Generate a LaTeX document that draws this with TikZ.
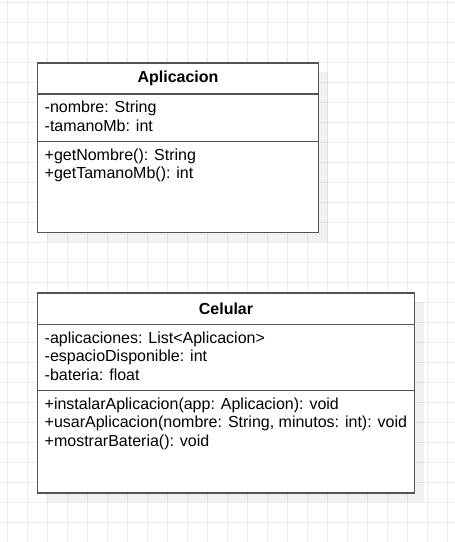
\documentclass[tikz,border=0pt]{standalone}
\usepackage{fontspec}
\setmainfont{Liberation Sans}
\usepackage{xcolor}
\usetikzlibrary{positioning,backgrounds}

\begin{document}
\begin{tikzpicture}[
    x=1pt,y=-1pt,
    every node/.style={font=\fontsize{16}{18}\selectfont},
    grd/.style={line width=1.4pt,black!7},
    shd/.style={fill=black,fill opacity=.055},
    cbox/.style={draw=black!67,line width=1.8pt,fill=white,outer sep=0pt,
                 inner sep=0pt,anchor=north west},
    cname/.style={cbox,font=\fontsize{16}{18}\selectfont\bfseries},
    mem/.style={anchor=base west,inner sep=0pt},
  ]
  \def\dy{18.4}

  % -- class Aplicacion --
  \node[cname,minimum width=281pt,minimum height=31pt] (apHead) at (37.5,63) {Aplicacion};
  \node[cbox,minimum width=281pt,minimum height=47.5pt,below=0pt of apHead] (apAttr) {};
  \node[cbox,minimum width=281pt,minimum height=91pt,below=0pt of apAttr] (apMeth) {};
  \foreach \t [count=\i] in {-nombre: String, -tamanoMb: int}
    \node[mem] (apA\i) at ([shift={({7},{18.8+(\i-1)*\dy})}]apAttr.north west) {\t};
  \foreach \t [count=\i] in {+getNombre(): String, +getTamanoMb(): int}
    \node[mem] (apM\i) at ([shift={({7},{18.8+(\i-1)*\dy})}]apMeth.north west) {\t};

  % -- class Celular --
  \node[cname,minimum width=377pt,minimum height=31.5pt] (ceHead) at (37.5,293) {Celular};
  \node[cbox,minimum width=377pt,minimum height=66pt,below=0pt of ceHead] (ceAttr) {};
  \node[cbox,minimum width=377pt,minimum height=102.8pt,below=0pt of ceAttr] (ceMeth) {};
  \foreach \t [count=\i] in {-aplicaciones: List<Aplicacion>, -espacioDisponible: int,
                             -bateria: float}
    \node[mem] (ceA\i) at ([shift={({7},{18.8+(\i-1)*\dy})}]ceAttr.north west) {\t};
  \foreach \t [count=\i] in {+instalarAplicacion(app: Aplicacion): void,
                             {+usarAplicacion(nombre: String, minutos: int): void},
                             +mostrarBateria(): void}
    \node[mem] (ceM\i) at ([shift={({7},{18.8+(\i-1)*\dy})}]ceMeth.north west) {\t};

  % -- sheet, grid and shadows behind the classes --
  \begin{pgfonlayer}{background}
    \useasboundingbox (0,0) rectangle (455,542);
    \fill[white] (0,0) rectangle (455,542);
    \foreach \x in {0,...,22} \draw[grd] ({7.7+20*\x},0) -- ({7.7+20*\x},542);
    \foreach \y in {0,...,26} \draw[grd] (0,{2.7+20*\y}) -- (455,{2.7+20*\y});
    \foreach \c in {ap,ce}
      \fill[shd] ([shift={(9,9)}]\c Head.north west) rectangle ([shift={(9,9)}]\c Meth.south east);
  \end{pgfonlayer}
\end{tikzpicture}
\end{document}
